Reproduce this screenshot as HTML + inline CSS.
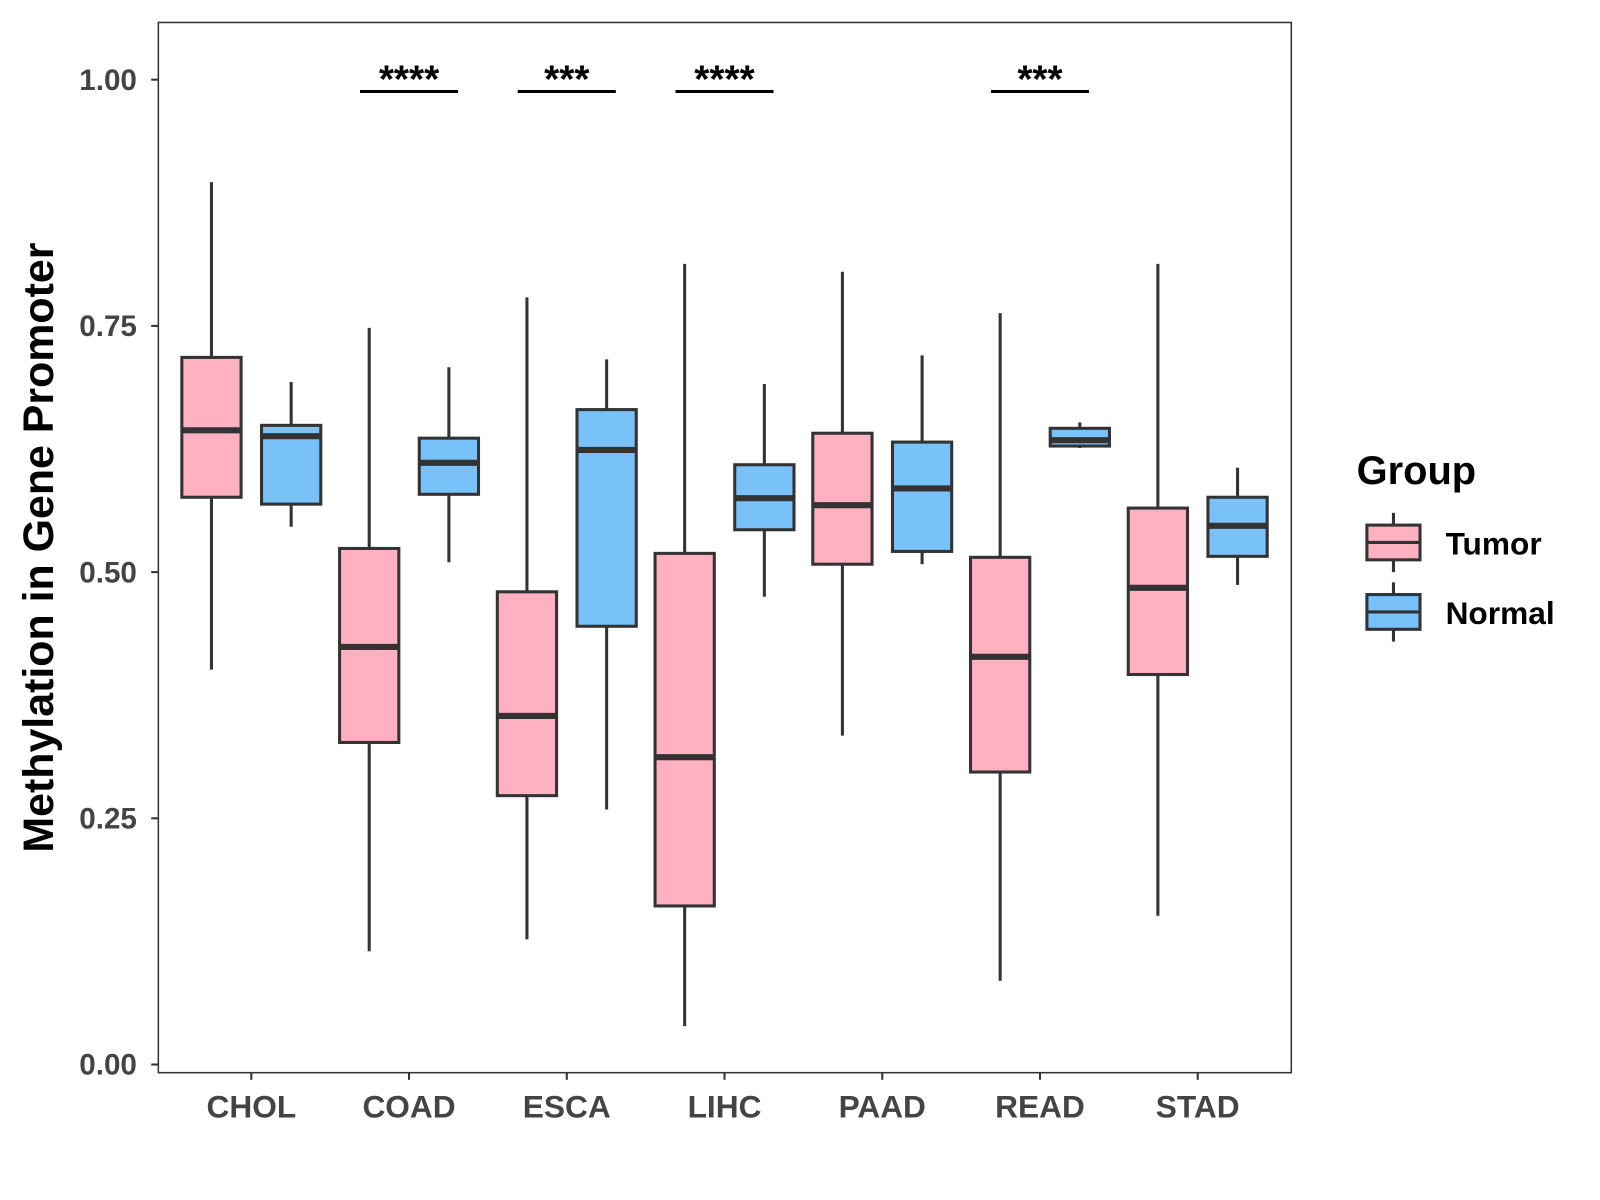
<!DOCTYPE html>
<html><head><meta charset="utf-8"><style>
html,body{margin:0;padding:0;background:#fff;}
svg{display:block;font-family:"Liberation Sans",Arial,sans-serif;}
</style></head><body>
<svg id="chart" width="1600" height="1200" viewBox="0 0 1600 1200">
<rect x="0" y="0" width="1600" height="1200" fill="#fff"/>
<g transform="scale(1.0216)">
<rect x="155" y="22" width="1109" height="1028" fill="none" stroke="#333" stroke-width="1.5"/>
<g id="marks"></g>
<text transform="translate(52,536) rotate(-90)" text-anchor="middle" font-size="42" font-weight="bold" fill="#000">Methylation in Gene Promoter</text>
<g>
<text x="1328" y="474" font-size="39" font-weight="bold" fill="#000">Group</text>
<g>
<line x1="1364" y1="502" x2="1364" y2="560" stroke="#333" stroke-width="3"/>
<rect x="1338" y="514" width="52" height="34" fill="#FFB0C1" stroke="#333" stroke-width="3"/>
<line x1="1338" y1="531" x2="1390" y2="531" stroke="#333" stroke-width="3"/>
<text x="1415" y="543" font-size="31" font-weight="bold" fill="#000">Tumor</text>
</g>
<g>
<line x1="1364" y1="570" x2="1364" y2="628" stroke="#333" stroke-width="3"/>
<rect x="1338" y="582" width="52" height="34" fill="#78C1F9" stroke="#333" stroke-width="3"/>
<line x1="1338" y1="599" x2="1390" y2="599" stroke="#333" stroke-width="3"/>
<text x="1415" y="611" font-size="31" font-weight="bold" fill="#000">Normal</text>
</g>
</g>
</g>
</svg>
<script>
const categories = ["CHOL","COAD","ESCA","LIHC","PAAD","READ","STAD"];
// [lower whisker, q1, median, q3, upper whisker]
const tumorStats = [
 [0.401,0.576,0.644,0.718,0.896],
 [0.115,0.327,0.424,0.524,0.748],
 [0.127,0.273,0.354,0.480,0.779],
 [0.039,0.161,0.312,0.519,0.813],
 [0.334,0.508,0.568,0.641,0.805],
 [0.085,0.297,0.414,0.515,0.763],
 [0.151,0.396,0.484,0.565,0.813]
];
const normalStats = [
 [0.546,0.569,0.638,0.649,0.693],
 [0.510,0.579,0.611,0.636,0.708],
 [0.259,0.445,0.624,0.665,0.716],
 [0.475,0.543,0.575,0.609,0.691],
 [0.508,0.521,0.585,0.632,0.720],
 [0.626,0.628,0.634,0.646,0.652],
 [0.487,0.516,0.547,0.576,0.606]
];
const yTicks = [0,0.25,0.5,0.75,1.0];
const yTickLabels = ["0.00","0.25","0.50","0.75","1.00"];
const sigCategories = ["COAD","ESCA","LIHC","READ"];
const sigLabels = ["****","***","****","***"];
const sigValue = 0.988;

const NS="http://www.w3.org/2000/svg";
const g=document.getElementById('marks');
function y(v){return 1042-v*964;}
function x(i){return 246+i*154.4;}
function el(tag,attrs,parent){const e=document.createElementNS(NS,tag);for(const k in attrs)e.setAttribute(k,attrs[k]);(parent||g).appendChild(e);return e;}

yTicks.forEach((t,i)=>{
  const tk=el('line',{x1:148,x2:155,y1:y(t),y2:y(t),stroke:'#333','stroke-width':2});
  
  
  const tl=el('text',{x:134,y:y(t)+10,'text-anchor':'end','font-size':29,'font-weight':'bold',fill:'#444'});
  tl.textContent=yTickLabels[i];
  
  
});
categories.forEach((c,i)=>{
  const tk=el('line',{x1:x(i),x2:x(i),y1:1050,y2:1057,stroke:'#333','stroke-width':2});
  
  
  const tl=el('text',{x:x(i),y:1094,'text-anchor':'middle','font-size':31,'font-weight':'bold',fill:'#444'});
  tl.textContent=c;
  
  
});
function box(cx,s,fill,name){
  const bg=el('g',{});
  
  
  const w=29;
  el('line',{x1:cx,x2:cx,y1:y(s[4]),y2:y(s[3]),stroke:'#333','stroke-width':3},bg);
  el('line',{x1:cx,x2:cx,y1:y(s[1]),y2:y(s[0]),stroke:'#333','stroke-width':3},bg);
  el('rect',{x:cx-w,y:y(s[3]),width:2*w,height:y(s[1])-y(s[3]),fill:fill,stroke:'#333','stroke-width':3},bg);
  el('line',{x1:cx-w,x2:cx+w,y1:y(s[2]),y2:y(s[2]),stroke:'#333','stroke-width':6},bg);
}
categories.forEach((c,i)=>{
  box(x(i)-39,tumorStats[i],'#FFB0C1','box-tumor-'+c.toLowerCase());
  box(x(i)+39,normalStats[i],'#78C1F9','box-normal-'+c.toLowerCase());
});
sigCategories.forEach((c,j)=>{
  const i=categories.indexOf(c);
  const ln=el('line',{x1:x(i)-48,x2:x(i)+48,y1:y(sigValue),y2:y(sigValue),stroke:'#000','stroke-width':3});
  
  
  const t=el('text',{x:x(i),y:y(sigValue)+1,'text-anchor':'middle','font-size':38,'font-weight':'bold',fill:'#000'});
  t.textContent=sigLabels[j];
  
  
});
</script>
</body></html>
